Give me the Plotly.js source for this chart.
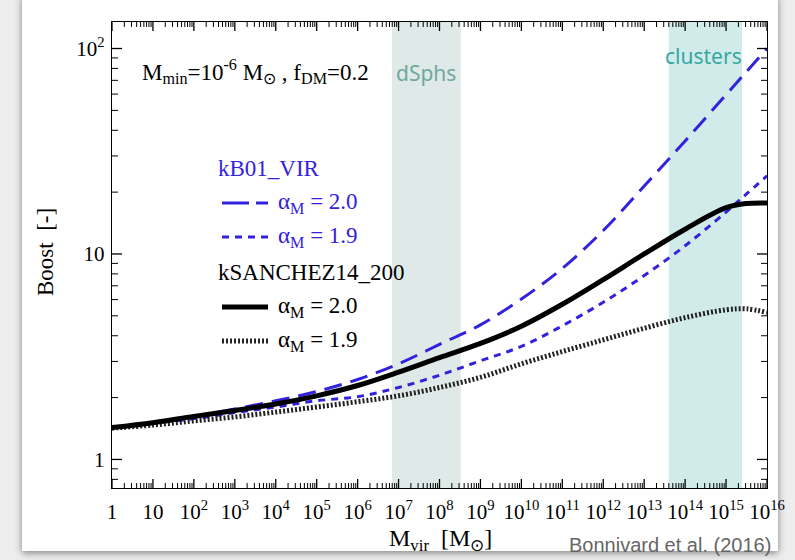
<!DOCTYPE html>
<html>
<head>
<meta charset="utf-8">
<script src="https://cdn.plot.ly/plotly-3.0.1.min.js"></script>
<style>
  html, body { margin:0; padding:0; width:795px; height:560px; overflow:hidden; background:#ededed; }
  #card { position:absolute; left:22px; top:-4px; width:756px; height:555px; background:#fff;
          box-shadow: 0 2px 7px rgba(0,0,0,0.45); }
  #plot { position:absolute; left:0; top:0; width:795px; height:560px; }
</style>
</head>
<body>
<div id="card"></div>
<div id="plot"></div>
<script>
// ---- data ----
const massVir = [1, 1e1, 1e2, 1e3, 1e4, 1e5, 1e6, 1e7, 1e8, 1e9, 1e10, 1e11, 1e12, 1e13, 1e14, 1e15, 3.16e15, 1e16];
const boostB01_a20 = [1.43, 1.51, 1.62, 1.76, 1.93, 2.14, 2.45, 2.92, 3.63, 4.52, 6.03, 8.51, 13.0, 21.4, 35.5, 59.6, 77.2, 100];
const boostB01_a19 = [1.43, 1.50, 1.58, 1.69, 1.80, 1.93, 2.02, 2.24, 2.57, 3.02, 3.55, 4.47, 5.82, 7.85, 10.96, 16.0, 19.6, 24.0];
const boostS14_a20 = [1.43, 1.51, 1.62, 1.73, 1.86, 2.04, 2.29, 2.66, 3.13, 3.67, 4.45, 5.69, 7.50, 10.0, 13.2, 16.8, 17.6, 17.7];
const boostS14_a19 = [1.42, 1.47, 1.54, 1.61, 1.70, 1.80, 1.91, 2.04, 2.24, 2.51, 2.92, 3.35, 3.82, 4.35, 4.90, 5.35, 5.41, 5.19];

const xTickVals = [1, 1e1, 1e2, 1e3, 1e4, 1e5, 1e6, 1e7, 1e8, 1e9, 1e10, 1e11, 1e12, 1e13, 1e14, 1e15, 1e16];
const xTickText = ['1', '10', '10<sup>2</sup>', '10<sup>3</sup>', '10<sup>4</sup>', '10<sup>5</sup>', '10<sup>6</sup>',
  '10<sup>7</sup>', '10<sup>8</sup>', '10<sup>9</sup>', '10<sup>10</sup>', '10<sup>11</sup>', '10<sup>12</sup>',
  '10<sup>13</sup>', '10<sup>14</sup>', '10<sup>15</sup>', '10<sup>16</sup>'];
const yTickVals = [1, 10, 100];
const yTickText = ['1', '10', '10<sup>2</sup>'];

const bandDSphs = [6.9e6, 3.3e8];        // Mvir range
const bandClusters = [4.0e13, 2.45e15];  // Mvir range

// ---- styling ----
const BLUE = '#3322dd';
const SERIF = 'Liberation Serif, Times New Roman, serif';
const SANS = 'Noto Sans, Lato, sans-serif';

// plot area in page pixels
const PL = 112, PR = 767, PT = 22, PB = 488;
const W = 795, H = 560;
const XRANGE = [0, 16], YRANGE = [-0.139, 2.129];
const px = x => (x - PL) / (PR - PL);
const py = y => (PB - y) / (PB - PT);
const PXDEC_X = (PR - PL) / (XRANGE[1] - XRANGE[0]);
const PXDEC_Y = (PB - PT) / (YRANGE[1] - YRANGE[0]);

// minor tick positions (2..9 in each decade)
const xMinor = [];
for (let k = 0; k < 16; k++) for (let m = 2; m <= 9; m++) xMinor.push(m * Math.pow(10, k));
const yMinor = [0.8, 0.9];
for (let k = 0; k < 2; k++) for (let m = 2; m <= 9; m++) yMinor.push(m * Math.pow(10, k));

const shapes = [
  { type: 'rect', xref: 'x', yref: 'paper', x0: bandDSphs[0], x1: bandDSphs[1], y0: 0, y1: 1,
    fillcolor: '#dfe9e7', line: { width: 0 }, layer: 'below' },
  { type: 'rect', xref: 'x', yref: 'paper', x0: bandClusters[0], x1: bandClusters[1], y0: 0, y1: 1,
    fillcolor: '#d1ebea', line: { width: 0 }, layer: 'below' },
  // legend samples
  { type: 'line', xref: 'paper', yref: 'paper', x0: px(222), x1: px(268), y0: py(203), y1: py(203),
    line: { color: BLUE, width: 3, dash: '27px,7px' } },
  { type: 'line', xref: 'paper', yref: 'paper', x0: px(222), x1: px(268), y0: py(237), y1: py(237),
    line: { color: BLUE, width: 3, dash: '7px,6px' } },
  { type: 'line', xref: 'paper', yref: 'paper', x0: px(222), x1: px(268), y0: py(307), y1: py(307),
    line: { color: '#000', width: 5 } },
  { type: 'line', xref: 'paper', yref: 'paper', x0: px(222), x1: px(268), y0: py(341), y1: py(341),
    line: { color: '#222', width: 5, dash: '2px,2px' } }
];

// inside ticks on all four sides, drawn as thin rectangles on the axes' own scales
function xTick(v, len, w) {
  const f = Math.pow(10, w / 2 / PXDEC_X), h = len / (PB - PT);
  shapes.push({ type: 'rect', xref: 'x', yref: 'paper', x0: v / f, x1: v * f, y0: 0, y1: h, fillcolor: '#000', line: { width: 0 } });
  shapes.push({ type: 'rect', xref: 'x', yref: 'paper', x0: v / f, x1: v * f, y0: 1 - h, y1: 1, fillcolor: '#000', line: { width: 0 } });
}
function yTick(v, len, w) {
  const f = Math.pow(10, w / 2 / PXDEC_Y), l = len / (PR - PL);
  shapes.push({ type: 'rect', xref: 'paper', yref: 'y', x0: 0, x1: l, y0: v / f, y1: v * f, fillcolor: '#000', line: { width: 0 } });
  shapes.push({ type: 'rect', xref: 'paper', yref: 'y', x0: 1 - l, x1: 1, y0: v / f, y1: v * f, fillcolor: '#000', line: { width: 0 } });
}
xTickVals.forEach(v => xTick(v, 9, 1.3));
xMinor.forEach(v => xTick(v, 5, 1.0));
yTickVals.forEach(v => yTick(v, 10, 1.3));
yMinor.forEach(v => yTick(v, 6, 1.0));

const traces = [
  { x: massVir, y: boostB01_a20, mode: 'lines', line: { color: BLUE, width: 3, dash: '18px,9px', shape: 'spline' } },
  { x: massVir, y: boostB01_a19, mode: 'lines', line: { color: BLUE, width: 3, dash: '7px,6px', shape: 'spline' } },
  { x: massVir, y: boostS14_a19, mode: 'lines', line: { color: '#222', width: 5, dash: '2px,2px', shape: 'spline' } },
  { x: massVir, y: boostS14_a20, mode: 'lines', line: { color: '#000', width: 5, shape: 'spline' } }
];

const axisCommon = {
  type: 'log', showline: true, linecolor: '#000', linewidth: 1.3, mirror: true,
  ticks: '', showgrid: false, zeroline: false, tickmode: 'array',
  tickfont: { family: SERIF, size: 21, color: '#000' }
};

const layout = {
  width: W, height: H,
  margin: { l: PL, r: W - PR, t: PT, b: H - PB },
  paper_bgcolor: 'rgba(0,0,0,0)',
  plot_bgcolor: 'rgba(0,0,0,0)',
  showlegend: false,
  xaxis: Object.assign({}, axisCommon, { range: XRANGE, tickvals: xTickVals, ticktext: xTickText, ticklabelstandoff: 4 }),
  yaxis: Object.assign({}, axisCommon, { range: YRANGE, tickvals: yTickVals, ticktext: yTickText, ticklabelstandoff: 2 }),
  shapes: shapes,
  annotations: [
    { xref: 'paper', yref: 'paper', x: px(140), y: py(72), xanchor: 'left', yanchor: 'middle', showarrow: false,
      text: 'M<sub>min</sub>=10<sup>-6</sup> M<sub>⊙</sub> , f<sub>DM</sub>=0.2', font: { family: SERIF, size: 23, color: '#000' } },
    { xref: 'paper', yref: 'paper', x: px(426), y: py(73), xanchor: 'center', yanchor: 'middle', showarrow: false,
      text: 'dSphs', font: { family: SANS, size: 21, color: '#6fa89e' } },
    { xref: 'paper', yref: 'paper', x: px(703), y: py(56), xanchor: 'center', yanchor: 'middle', showarrow: false,
      text: 'clusters', font: { family: SANS, size: 21, color: '#36a8a0' } },
    { xref: 'paper', yref: 'paper', x: px(216), y: py(168), xanchor: 'left', yanchor: 'middle', showarrow: false,
      text: 'kB01_VIR', font: { family: SERIF, size: 23, color: BLUE } },
    { xref: 'paper', yref: 'paper', x: px(276), y: py(203), xanchor: 'left', yanchor: 'middle', showarrow: false,
      text: 'α<sub>M</sub> = 2.0', font: { family: SERIF, size: 23, color: BLUE } },
    { xref: 'paper', yref: 'paper', x: px(276), y: py(237), xanchor: 'left', yanchor: 'middle', showarrow: false,
      text: 'α<sub>M</sub> = 1.9', font: { family: SERIF, size: 23, color: BLUE } },
    { xref: 'paper', yref: 'paper', x: px(216), y: py(272), xanchor: 'left', yanchor: 'middle', showarrow: false,
      text: 'kSANCHEZ14_200', font: { family: SERIF, size: 23, color: '#000' } },
    { xref: 'paper', yref: 'paper', x: px(276), y: py(307), xanchor: 'left', yanchor: 'middle', showarrow: false,
      text: 'α<sub>M</sub> = 2.0', font: { family: SERIF, size: 23, color: '#000' } },
    { xref: 'paper', yref: 'paper', x: px(276), y: py(341), xanchor: 'left', yanchor: 'middle', showarrow: false,
      text: 'α<sub>M</sub> = 1.9', font: { family: SERIF, size: 23, color: '#000' } },
    // axis titles
    { xref: 'paper', yref: 'paper', x: px(45), y: py(252), xanchor: 'center', yanchor: 'middle', showarrow: false,
      textangle: -90, text: 'Boost\u00a0\u00a0[-]', font: { family: SERIF, size: 23, color: '#000' } },
    { xref: 'paper', yref: 'paper', x: px(440), y: py(540), xanchor: 'center', yanchor: 'middle', showarrow: false,
      text: 'M<sub>vir</sub>\u00a0\u00a0[M<sub>⊙</sub>]', font: { family: SERIF, size: 24, color: '#000' } },
    // credit
    { xref: 'paper', yref: 'paper', x: px(773), y: py(545), xanchor: 'right', yanchor: 'middle', showarrow: false,
      text: 'Bonnivard et al. (2016)', font: { family: 'Liberation Sans, Arial, sans-serif', size: 20, color: '#666' } }
  ]
};

Plotly.newPlot('plot', traces, layout, { displayModeBar: false, staticPlot: true });
</script>
</body>
</html>
